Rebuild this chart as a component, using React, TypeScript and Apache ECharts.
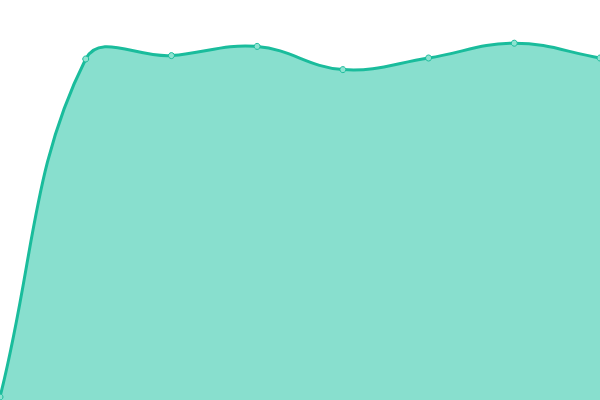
import { useEffect, useRef } from "react";
import * as echarts from "echarts";

const categories = [0, 1, 2, 3, 4, 5, 6, 7];
const values = [0.75, 85.25, 86.1, 88.4, 82.6, 85.5, 89.2, 85.5];

const LINE_COLOR = "#1abc9c";
const AREA_COLOR = "#88dfce";
const POINT_FILL = "#8ee3d1";
const TENSION = 0.4;

// spline control points, same idea as a cardinal spline with tension
function controlPoints(pts: number[][], top: number, bottom: number) {
  const cps: { prev: number[]; next: number[] }[] = [];
  for (let i = 0; i < pts.length; i++) {
    const prev = pts[i - 1] || pts[i];
    const curr = pts[i];
    const next = pts[i + 1] || pts[i];
    const d01 = Math.hypot(curr[0] - prev[0], curr[1] - prev[1]);
    const d12 = Math.hypot(next[0] - curr[0], next[1] - curr[1]);
    let s01 = d01 / (d01 + d12);
    let s12 = d12 / (d01 + d12);
    if (isNaN(s01)) s01 = 0;
    if (isNaN(s12)) s12 = 0;
    const fa = TENSION * s01;
    const fb = TENSION * s12;
    const clampY = (y: number) => Math.min(bottom, Math.max(top, y));
    cps.push({
      prev: [curr[0] - fa * (next[0] - prev[0]), clampY(curr[1] - fa * (next[1] - prev[1]))],
      next: [curr[0] + fb * (next[0] - prev[0]), clampY(curr[1] + fb * (next[1] - prev[1]))],
    });
  }
  return cps;
}

const App = () => {
  const chartRef = useRef<HTMLDivElement>(null);

  useEffect(() => {
    if (!chartRef.current) return;
    document.body.style.margin = "0";
    const chart = echarts.init(chartRef.current, null, { renderer: "svg" });

    const option: echarts.EChartsOption = {
      animation: false,
      grid: { left: 0, right: 0, top: 0, bottom: 0 },
      xAxis: { type: "value", min: 0, max: categories.length - 1, show: false },
      yAxis: { type: "value", min: 0, max: 100, show: false },
      series: [
        {
          type: "custom",
          clip: false,
          data: [[0, 0]],
          renderItem: (params: any, api: any) => {
            const pts = categories.map((c, i) => api.coord([c, values[i]]));
            const top = api.coord([0, 100])[1];
            const bottom = api.coord([0, 0])[1];
            const cps = controlPoints(pts, top, bottom);
            let line = `M${pts[0][0]} ${pts[0][1]}`;
            for (let i = 1; i < pts.length; i++) {
              const a = cps[i - 1].next;
              const b = cps[i].prev;
              line += ` C${a[0]} ${a[1]} ${b[0]} ${b[1]} ${pts[i][0]} ${pts[i][1]}`;
            }
            const last = pts[pts.length - 1];
            const area = `${line} L${last[0]} ${bottom} L${pts[0][0]} ${bottom} Z`;
            return {
              type: "group",
              children: [
                {
                  type: "path",
                  shape: { pathData: area },
                  style: { fill: AREA_COLOR, stroke: "none" },
                },
                {
                  type: "path",
                  shape: { pathData: line },
                  style: { fill: "none", stroke: LINE_COLOR, lineWidth: 3, lineJoin: "round" },
                },
                ...pts.map((p: number[]) => ({
                  type: "circle",
                  shape: { cx: p[0], cy: p[1], r: 3 },
                  style: { fill: POINT_FILL, stroke: LINE_COLOR, lineWidth: 1 },
                })),
              ],
            };
          },
        },
      ],
    };

    chart.setOption(option);
    return () => {
      chart.dispose();
    };
  }, []);

  return <div ref={chartRef} style={{ width: "600px", height: "400px" }} />;
};

export default App;
